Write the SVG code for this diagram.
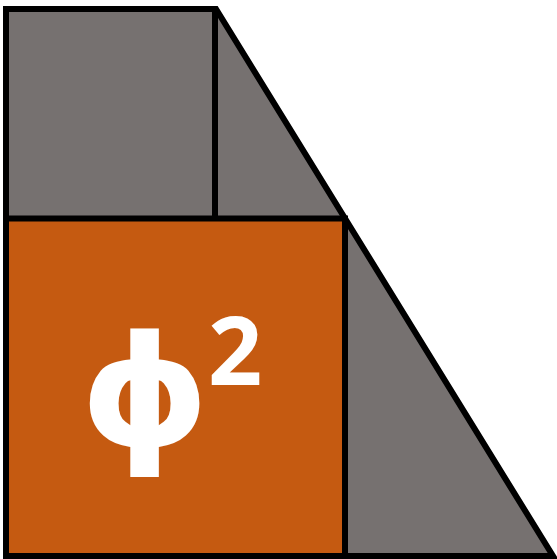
<svg xmlns="http://www.w3.org/2000/svg" width="557" height="559" viewBox="0 0 557 559">
<style>
.s{stroke:#000;stroke-width:6;stroke-linejoin:miter;stroke-miterlimit:10}
.g{fill:#767170}
.o{fill:#C55A11}
.t{fill:#fff;font-family:"Open Sans","DejaVu Sans",sans-serif;font-weight:bold}
</style>
<g id="shape">
<polygon class="g s" points="6,9 216,9 553,556 6,556"/>
</g>
<g id="square">
<rect class="o s" x="6" y="218.5" width="339" height="337.5"/>
</g>
<g id="connectors">
<line class="s" x1="215" y1="9" x2="215" y2="218.5"/>
</g>
<g id="label">
<text class="t" transform="translate(80,445) scale(1.07,1)" font-size="153">ϕ</text>
<text class="t" x="208" y="385" font-size="95">2</text>
</g>
</svg>
